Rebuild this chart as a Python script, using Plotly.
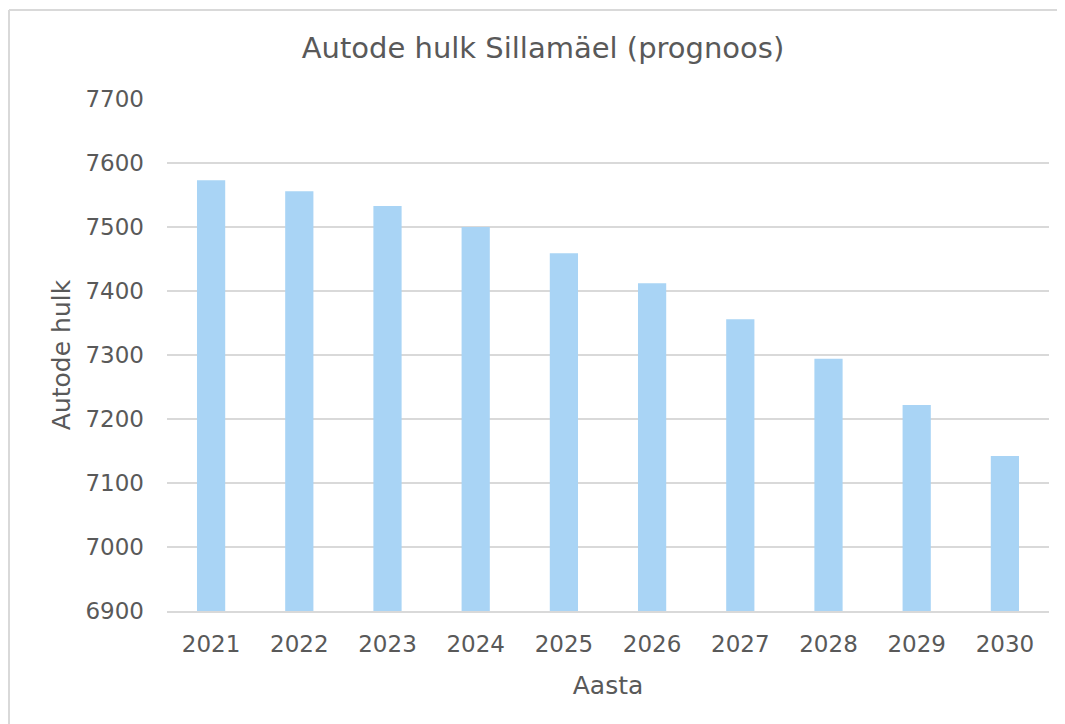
import plotly.graph_objects as go

years = ["2021", "2022", "2023", "2024", "2025", "2026", "2027", "2028", "2029", "2030"]
cars = [7573, 7556, 7533, 7500, 7459, 7412, 7356, 7294, 7222, 7142]

font_family = "Verdana, DejaVu Sans, sans-serif"
grey = "#595959"
W, H = 1057, 716

fig = go.Figure()
fig.add_trace(go.Bar(x=years, y=cars, marker=dict(color="#A9D4F5", line=dict(width=0))))

fig.update_layout(
    width=W, height=H,
    margin=dict(l=159, r=16, t=91, b=113),
    paper_bgcolor="white", plot_bgcolor="white",
    bargap=0.68,
    showlegend=False,
    font=dict(family=font_family, color=grey),
    title=dict(text="Autode hulk Sillamäel (prognoos)", x=(543 - 8) / W, xanchor="center",
               y=1 - 40 / H, yanchor="middle", font=dict(size=29, color=grey)),
)
fig.update_xaxes(
    type="category", showgrid=False, showline=True, linecolor="#D9D9D9", linewidth=1.5,
    ticks="", tickfont=dict(size=23, color=grey), ticklabelstandoff=12,
    title=dict(text="Aasta", font=dict(size=25, color=grey), standoff=20),
)
fig.update_yaxes(
    range=[6900, 7700], dtick=100, showgrid=True, gridcolor="#D9D9D9", gridwidth=1.5,
    zeroline=False, showline=False, ticks="", tickfont=dict(size=23, color=grey),
    ticklabelstandoff=22,
    title=dict(text="Autode hulk", font=dict(size=25, color=grey), standoff=7),
)
# chart frame: only left and top edges are visible in the reference
fig.add_shape(type="line", xref="paper", yref="paper", x0=-158 / 882, x1=-158 / 882,
              y0=-2, y1=1 + 89 / 512, line=dict(color="#D9D9D9", width=2))
fig.add_shape(type="line", xref="paper", yref="paper", x0=-158 / 882, x1=2,
              y0=1 + 89 / 512, y1=1 + 89 / 512, line=dict(color="#D9D9D9", width=2))

fig.write_html("out.html")
